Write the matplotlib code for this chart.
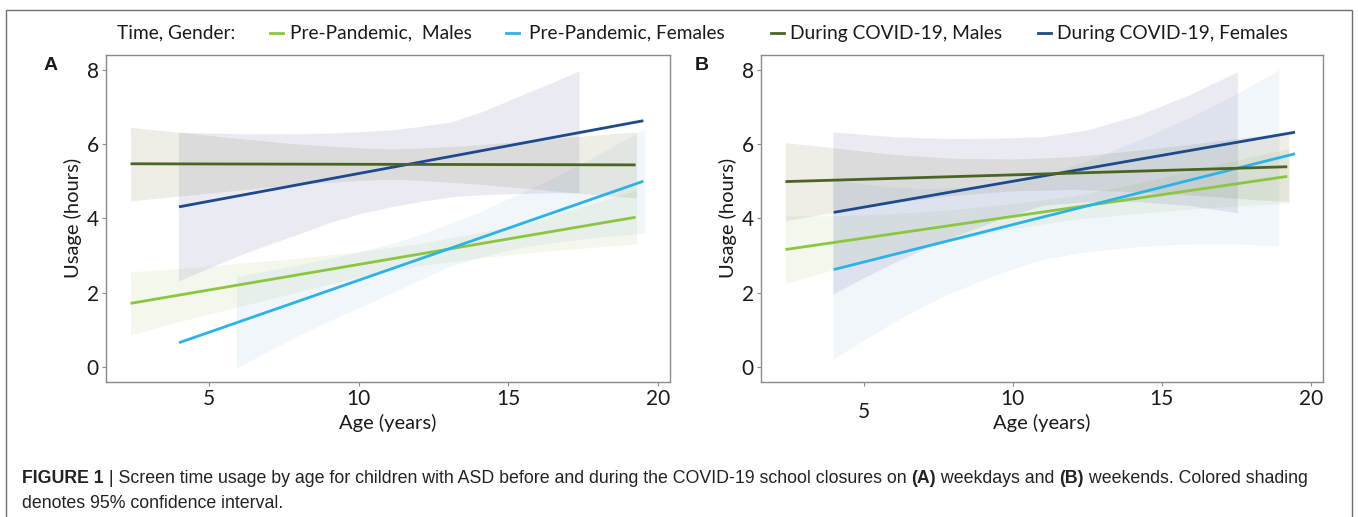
import matplotlib

matplotlib.use("Agg")
import matplotlib.pyplot as plt
from matplotlib import font_manager
from matplotlib.lines import Line2D
from matplotlib.patches import Rectangle


def pick_font(names):
    available = {f.name for f in font_manager.fontManager.ttflist}
    for name in names:
        if name in available:
            return name
    return "DejaVu Sans"


MAIN_FONT = pick_font(["Myriad Pro", "Lato", "Open Sans"])
CAPTION_FONT = pick_font(["Liberation Sans", "Arial", "DejaVu Sans"])

series_labels = ["Pre-Pandemic,  Males", "Pre-Pandemic, Females",
                 "During COVID-19, Males", "During COVID-19, Females"]
series_colors = ["#8cc63f", "#2bb3e8", "#4b6424", "#1c4a8c"]
band_colors = ["#90b82e", "#3a80d0", "#5a5a10", "#3a3a8a"]
band_alpha = [0.09, 0.07, 0.1, 0.1]

# ---- panel A (weekdays): fitted lines (age, hours)
a_line_x = [[2.37, 19.25], [3.99, 19.51], [2.37, 19.25], [3.99, 19.51]]
a_line_y = [[1.71, 4.03], [0.65, 5.00], [5.47, 5.44], [4.31, 6.63]]

# ---- panel A: 95% CI bands
a_band_x = [
    [2.37, 4, 6, 8, 10, 12, 14, 16, 18, 19.28],
    [5.91, 7, 8, 9.5, 11, 12, 13, 14.2, 15.3, 16.4, 17.5, 18.5, 19.56],
    [2.37, 4, 6, 8, 10, 11, 12, 14, 16, 18, 19.28],
    [3.97, 5, 6, 7, 8, 9, 10, 11, 12, 13.1, 14.2, 15.3, 16.4, 17.36],
]
a_band_lo = [
    [0.86, 1.22, 1.62, 2.03, 2.42, 2.72, 2.93, 3.1, 3.23, 3.31],
    [-0.03, 0.43, 0.85, 1.42, 1.95, 2.33, 2.7, 2.98, 3.2, 3.34, 3.45, 3.53, 3.6],
    [4.47, 4.6, 4.76, 4.92, 5.02, 5.05, 5.03, 4.92, 4.78, 4.63, 4.55],
    [2.31, 2.67, 3.0, 3.3, 3.58, 3.88, 4.12, 4.3, 4.45, 4.58, 4.64, 4.67, 4.69, 4.69],
]
a_band_hi = [
    [2.56, 2.65, 2.79, 2.93, 3.1, 3.32, 3.61, 3.94, 4.45, 4.75],
    [2.43, 2.6, 2.75, 3.0, 3.3, 3.55, 3.85, 4.22, 4.65, 5.05, 5.5, 5.95, 6.42],
    [6.45, 6.32, 6.15, 6.0, 5.9, 5.87, 5.89, 5.98, 6.12, 6.25, 6.33],
    [6.32, 6.3, 6.28, 6.28, 6.28, 6.3, 6.33, 6.38, 6.47, 6.6, 6.9, 7.28, 7.64, 7.97],
]

# ---- panel B (weekends): fitted lines
b_line_x = [[2.37, 19.21], [3.99, 19.47], [2.37, 19.21], [3.99, 19.47]]
b_line_y = [[3.16, 5.13], [2.62, 5.74], [4.99, 5.39], [4.16, 6.32]]

# ---- panel B: 95% CI bands
b_band_x = [
    [2.37, 4, 6, 8, 10, 12, 14, 16, 18, 19.26],
    [3.96, 5, 6, 7, 8, 9.5, 11, 12.5, 14.2, 15.9, 17.5, 18.93],
    [2.37, 4, 6, 8, 10, 12, 14, 16, 18, 19.26],
    [3.96, 5, 6, 7, 8, 9.5, 11, 12.5, 14.2, 15.9, 17.54],
]
b_band_lo = [
    [2.25, 2.62, 3.05, 3.4, 3.72, 3.97, 4.12, 4.25, 4.36, 4.4],
    [0.2, 0.72, 1.2, 1.63, 2.02, 2.5, 2.9, 3.1, 3.24, 3.31, 3.31, 3.25],
    [3.94, 4.16, 4.42, 4.62, 4.74, 4.78, 4.72, 4.63, 4.51, 4.45],
    [1.96, 2.4, 2.8, 3.17, 3.5, 3.96, 4.35, 4.45, 4.45, 4.35, 4.15],
]
b_band_hi = [
    [4.07, 4.07, 4.13, 4.24, 4.4, 4.6, 4.92, 5.28, 5.66, 5.88],
    [5.04, 4.92, 4.84, 4.8, 4.82, 4.93, 5.16, 5.55, 6.1, 6.71, 7.35, 8.0],
    [6.04, 5.9, 5.72, 5.62, 5.6, 5.66, 5.82, 6.0, 6.2, 6.32],
    [6.33, 6.26, 6.2, 6.17, 6.15, 6.16, 6.2, 6.38, 6.78, 7.32, 7.95],
]

x_ticks = [5, 10, 15, 20]
y_ticks = [0, 2, 4, 6, 8]

caption_line1 = [("FIGURE 1", "bold"), (" | Screen time usage by age for children with ASD before and "
                 "during the COVID-19 school closures on ", "normal"), ("(A)", "bold"),
                 (" weekdays and ", "normal"), ("(B)", "bold"),
                 (" weekends. Colored shading", "normal")]
caption_line2 = "denotes 95% confidence interval."

W, H = 1358, 517
fig = plt.figure(figsize=(W / 100, H / 100), dpi=100)
fig.patch.set_facecolor("white")

# thin frame around the whole figure
fig.patches.append(Rectangle((6 / W, -0.01), 1346 / W, 1 - 10 / H + 0.01, transform=fig.transFigure,
                             fill=False, edgecolor="#707070", linewidth=1.0))


def draw_panel(ax, line_x, line_y, band_x, band_lo, band_hi):
    for i in range(len(series_labels)):
        ax.fill_between(band_x[i], band_lo[i], band_hi[i], color=band_colors[i],
                        alpha=band_alpha[i], linewidth=0)
    for i in [0, 1, 3, 2]:
        ax.plot(line_x[i], line_y[i], color=series_colors[i], lw=2.0, solid_capstyle="butt")
    ax.set_xlim(1.54, 20.4)
    ax.set_ylim(-0.4, 8.4)
    ax.set_xticks(x_ticks)
    ax.set_yticks(y_ticks)
    for s in ax.spines.values():
        s.set_color("#8a8a8a")
        s.set_linewidth(1.0)
    ax.tick_params(length=3, width=0.8, color="#8a8a8a", labelsize=15, labelcolor="#1a1a1a", pad=2)
    for lbl in ax.get_xticklabels() + ax.get_yticklabels():
        lbl.set_family(MAIN_FONT)
    ax.set_xlabel("Age (years)", fontsize=14.5, family=MAIN_FONT, color="#1a1a1a")
    ax.xaxis.set_label_coords(0.5, -0.1)
    ax.set_ylabel("Usage (hours)", fontsize=14.5, family=MAIN_FONT, color="#1a1a1a", labelpad=3)


ax_a = fig.add_axes([105.7 / W, 1 - 381.7 / H, (670 - 105.7) / W, (381.7 - 55) / H])
ax_b = fig.add_axes([760.7 / W, 1 - 381.7 / H, (1322.7 - 760.7) / W, (381.7 - 55) / H])
draw_panel(ax_a, a_line_x, a_line_y, a_band_x, a_band_lo, a_band_hi)
draw_panel(ax_b, b_line_x, b_line_y, b_band_x, b_band_lo, b_band_hi)

# the "5" on panel B sits lower in the original
ax_b.xaxis.get_major_ticks()[0].label1.set_y(-0.04)

fig.text(44 / W, 1 - 66 / H, "A", fontsize=14, fontweight="bold", family=CAPTION_FONT,
         va="center", ha="left", color="#1a1a1a")
fig.text(695 / W, 1 - 66 / H, "B", fontsize=14, fontweight="bold", family=CAPTION_FONT,
         va="center", ha="left", color="#1a1a1a")

# legend row
leg_y = 1 - 33 / H
fig.text(117 / W, leg_y, "Time, Gender:", fontsize=13.8, family=MAIN_FONT, va="center",
         ha="left", color="#1a1a1a")
handle_x = [270, 506, 771, 1038]
text_x = [290, 529, 790, 1057]
for i, lab in enumerate(series_labels):
    fig.add_artist(Line2D([handle_x[i] / W, (handle_x[i] + 13) / W], [leg_y, leg_y],
                          transform=fig.transFigure, color=series_colors[i], lw=2.0))
    fig.text(text_x[i] / W, leg_y, lab, fontsize=13.8, family=MAIN_FONT, va="center",
             ha="left", color="#1a1a1a")

# caption with bold pieces
renderer = fig.canvas.get_renderer()
x = 22 / W
for txt, weight in caption_line1:
    t = fig.text(x, 1 - 483 / H, txt, fontsize=12.75, fontweight=weight, family=CAPTION_FONT,
                 va="baseline", ha="left", color="#222222")
    x += t.get_window_extent(renderer).width / fig.bbox.width
fig.text(22 / W, 1 - 508 / H, caption_line2, fontsize=12.75, family=CAPTION_FONT,
         va="baseline", ha="left", color="#222222")

fig.savefig("out.png", dpi=100)
